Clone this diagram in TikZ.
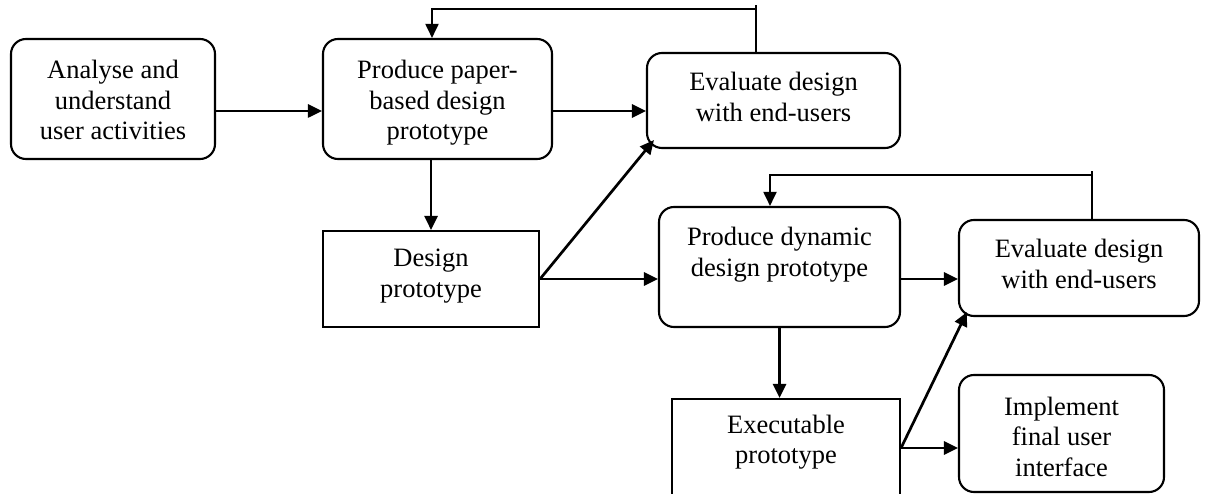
\documentclass[tikz,border=0pt]{standalone}
\usepackage{fontspec}
\setmainfont{Liberation Serif}
\usetikzlibrary{arrows.meta,calc}
\newcommand{\mltext}[1]{\begin{tabular}[t]{@{}c@{}}#1\end{tabular}}
\tikzset{
  rbox/.style={draw, line width=2.1pt, rounded corners=15pt, inner sep=0pt},
  sbox/.style={draw, line width=2.1pt, inner sep=0pt},
  lbl/.style={anchor=base, inner sep=0pt, font=\fontsize{26.5}{30.5}\selectfont},
  fwd/.style={line width=2.7pt, -{Triangle[length=14pt,width=13pt]}},
  fb/.style={line width=1.9pt},
  fbarrow/.style={line width=1.9pt, -{Triangle[length=14pt,width=13pt]}}
}
\begin{document}
\begin{tikzpicture}[x=1pt,y=-1pt]
\useasboundingbox (0,0) rectangle (1205,494);
% boxes
\node[rbox, minimum width=204pt, minimum height=120pt] (b1) at (113,99) {};
\node[rbox, minimum width=229pt, minimum height=120pt] (b2) at (437.5,99) {};
\node[rbox, minimum width=253pt, minimum height=95pt] (e1) at (773.5,100.5) {};
\node[sbox, minimum width=216pt, minimum height=96pt] (d1) at (431,279) {};
\node[rbox, minimum width=241pt, minimum height=120pt] (p1) at (779.5,267) {};
\node[rbox, minimum width=240pt, minimum height=96pt] (e2) at (1079,268) {};
\node[sbox, minimum width=228pt, minimum height=98pt] (x1) at (786,448) {};
\node[rbox, minimum width=205pt, minimum height=117pt] (i1) at (1061.5,433.5) {};
% texts
\node[lbl] (t1) at (113,79) {\mltext{Analyse and\\understand\\user activities}};
\node[lbl] (t2) at (437.5,79) {\mltext{Produce paper-\\based design\\prototype}};
\node[lbl] (t3) at (773.5,91) {\mltext{Evaluate design\\with end-users}};
\node[lbl] (t4) at (431,267) {\mltext{Design\\prototype}};
\node[lbl] (t5) at (779.5,246) {\mltext{Produce dynamic\\design prototype}};
\node[lbl] (t6) at (1079,258) {\mltext{Evaluate design\\with end-users}};
\node[lbl] (t7) at (786,433) {\mltext{Executable\\prototype}};
\node[lbl] (t8) at (1061.5,415) {\mltext{Implement\\final user\\interface}};
% forward connectors
\draw[fwd] ([yshift=-12pt]b1.east) -- ([yshift=-12pt]b2.west);
\draw[fwd] ([yshift=-12pt]b2.east) coordinate (pa) -- (pa -| e1.west);
\draw[fwd] (d1.north |- b2.south) -- (d1.north);
\draw[fwd] (d1.east) -- ([shift={(8pt,9pt)}]e1.south west);
\draw[fwd] (d1.east) -- (d1.east -| p1.west);
\draw[fwd] ([yshift=-12pt]p1.east) coordinate (pb) -- (pb -| e2.west);
\draw[fwd] (p1.south) -- (p1.south |- x1.north);
\draw[fwd] (x1.east) -- (x1.east -| i1.west);
\draw[fwd] (x1.east) -- ([shift={(9pt,5pt)}]e2.south west);
% feedback loops
\coordinate (f1a) at (756,9);
\coordinate (f1b) at (432,9);
\coordinate (f1t) at (756,5);
\draw[fb] (f1a |- e1.north) -- (f1t);
\draw[fbarrow] (f1a) -- (f1b) -- (f1b |- b2.north);
\coordinate (f2a) at (1092,175);
\coordinate (f2b) at (770,175);
\coordinate (f2t) at (1092,171);
\draw[fb] (f2a |- e2.north) -- (f2t);
\draw[fbarrow] (f2a) -- (f2b) -- (f2b |- p1.north);
\end{tikzpicture}
\end{document}
